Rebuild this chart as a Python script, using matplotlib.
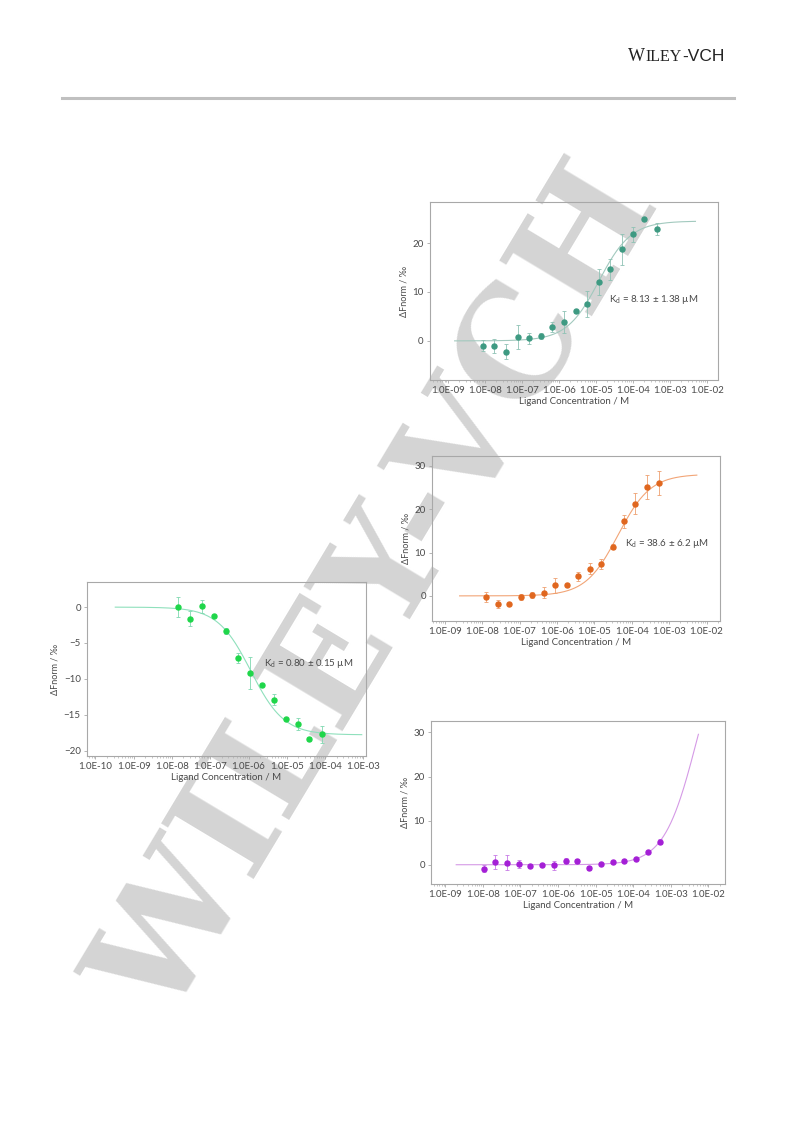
import numpy as np
import matplotlib
matplotlib.use('Agg')
import matplotlib.pyplot as plt
from matplotlib import ticker
from matplotlib.lines import Line2D

plt.rcParams['font.family'] = ['Lato', 'DejaVu Sans']
plt.rcParams['mathtext.fontset'] = 'custom'
plt.rcParams['mathtext.rm'] = 'Lato'
plt.rcParams['mathtext.it'] = 'Lato'

# ---- data (concentration in M, dFnorm in per mille) ----
conc1 = [8.9e-09, 1.78e-08, 3.72e-08, 7.59e-08, 1.58e-07, 3.24e-07, 6.61e-07, 1.35e-06,
         2.82e-06, 5.75e-06, 1.17e-05, 2.45e-05, 5.01e-05, 1.0e-04, 2.04e-04, 4.37e-04]
resp1 = [-0.95, -1.0, -2.2, 0.8, 0.5, 1.0, 2.8, 3.9, 6.1, 7.5, 12.0, 14.6, 18.7, 21.8, 25.0, 22.9]
err1 = [1.2, 1.4, 1.5, 2.4, 1.2, 0.6, 1.0, 2.2, 0.3, 2.6, 2.6, 2.1, 3.2, 1.5, 0.0, 1.2]

conc2 = [1.26e-08, 2.69e-08, 5.37e-08, 1.07e-07, 2.19e-07, 4.47e-07, 8.91e-07, 1.82e-06,
         3.72e-06, 7.59e-06, 1.51e-05, 3.16e-05, 6.31e-05, 1.26e-04, 2.63e-04, 5.25e-04]
resp2 = [-0.3, -1.8, -1.8, -0.2, 0.2, 0.7, 2.4, 2.4, 4.5, 6.3, 7.3, 11.4, 17.2, 21.3, 25.1, 26.0]
err2 = [1.1, 0.9, 0.0, 0.7, 0.8, 1.3, 1.8, 0.0, 1.0, 1.2, 1.2, 0.5, 1.5, 2.4, 2.8, 2.8]

conc3 = [1.48e-08, 3.02e-08, 6.17e-08, 1.26e-07, 2.57e-07, 5.25e-07, 1.07e-06, 2.19e-06,
         4.57e-06, 9.33e-06, 1.91e-05, 3.89e-05, 8.32e-05]
resp3 = [0.0, -1.6, 0.1, -1.2, -3.3, -7.1, -9.2, -10.9, -12.9, -15.6, -16.3, -18.4, -17.7]
err3 = [1.4, 1.0, 0.9, 0.0, 0.4, 0.7, 2.2, 0.0, 0.8, 0.0, 0.8, 0.3, 1.2]

conc4 = [1.05e-08, 2.14e-08, 4.37e-08, 8.91e-08, 1.82e-07, 3.72e-07, 7.76e-07, 1.58e-06,
         3.24e-06, 6.61e-06, 1.38e-05, 2.82e-05, 5.75e-05, 1.17e-04, 2.45e-04, 5.01e-04]
resp4 = [-0.9, 0.6, 0.5, 0.15, -0.2, -0.15, -0.15, 0.9, 0.8, -0.8, 0.1, 0.6, 0.75, 1.2, 3.0, 5.2]
err4 = [0.8, 1.5, 1.6, 0.9, 0.0, 0.0, 1.0, 0.6, 0.5, 0.5, 0.0, 0.0, 0.0, 0.0, 0.0, 0.6]

# fitted curves: amplitude, apparent EC50 (M), curve range (M)
fit1 = (24.5, 1.2e-05, 1.5e-09, 4.9e-03)
fit2 = (28.1, 4.3e-05, 2.5e-09, 5.5e-03)
fit3 = (-17.8, 1.15e-06, 3.3e-10, 9.1e-04)
fit4 = (56.7, 4.95e-03, 1.95e-09, 5.4e-03)

kd1 = 'K$_\\mathrm{d}$ = 8.13 ± 1.38 µM'
kd2 = 'K$_\\mathrm{d}$ = 38.6 ± 6.2 µM'
kd3 = 'K$_\\mathrm{d}$ = 0.80 ± 0.15 µM'

fig = plt.figure(figsize=(7.93, 11.21), dpi=100)

# watermark behind everything
fig.text(0.478, 0.47, 'WILEY-VCH', rotation=59, fontsize=106, family='DejaVu Serif',
         weight='bold', color='#d4d4d4', ha='center', va='center',
         rotation_mode='anchor', zorder=-5)

# header
fig.text(628 / 793, 1 - 61 / 1121, 'W', family='Liberation Serif', fontsize=13,
         color='#222222', va='baseline', ha='left')
fig.text(645 / 793, 1 - 61 / 1121, 'ILEY', family='Liberation Serif', fontsize=11.5,
         color='#222222', va='baseline', ha='left')
fig.text(682 / 793, 1 - 61 / 1121, '-VCH', family='Liberation Sans', fontsize=12.5,
         color='#222222', va='baseline', ha='left')
fig.add_artist(Line2D([62 / 793, 734 / 793], [1 - 98 / 1121, 1 - 98 / 1121],
                      color='#c0c0c0', linewidth=2.2, transform=fig.transFigure))


def decade_label(v, pos):
    e = int(round(np.log10(v)))
    return '1.0E%+03d' % e if e >= 0 else '1.0E-%02d' % (-e)


def plotMST(rect, conc, resp, err, fit, xlim, ylim, yticks, mcol, ecol, lcol, kd=None, kdpos=None):
    ax = fig.add_axes(rect)
    ax.set_facecolor('none')
    amp, ec50, c0, c1 = fit
    xc = np.logspace(np.log10(c0), np.log10(c1), 300)
    ax.plot(xc, amp * xc / (xc + ec50), color=lcol, linewidth=0.8, zorder=2)
    ax.errorbar(conc, resp, yerr=err, fmt='o', markersize=3.6, color=mcol,
                ecolor=ecol, elinewidth=0.6, capsize=1.6, capthick=0.6, zorder=3)
    ax.set_xscale('log')
    ax.set_xlim(xlim)
    ax.set_ylim(ylim)
    ax.set_yticks(yticks)
    ax.xaxis.set_major_locator(ticker.LogLocator(base=10, numticks=20))
    ax.xaxis.set_minor_locator(ticker.LogLocator(base=10, subs=np.arange(2, 10), numticks=20))
    ax.xaxis.set_major_formatter(ticker.FuncFormatter(decade_label))
    ax.xaxis.set_minor_formatter(ticker.NullFormatter())
    for s in ax.spines.values():
        s.set_color('#a8a8a8')
        s.set_linewidth(0.8)
    ax.tick_params(axis='both', which='major', labelsize=7, colors='#a8a8a8',
                   labelcolor='#4a4a4a', length=2.5, width=0.6, pad=2)
    ax.tick_params(axis='x', which='minor', colors='#b0b0b0', length=1.5, width=0.5)
    ax.set_xlabel('Ligand Concentration / M', fontsize=7, color='#4a4a4a', labelpad=1)
    ax.set_ylabel('ΔFnorm / ‰', fontsize=6.5, color='#4a4a4a', labelpad=3)
    if kd is not None:
        ax.text(kdpos[0], kdpos[1], kd, transform=ax.transAxes, fontsize=7,
                color='#4a4a4a', ha='left', va='center')
    return ax


plotMST([430 / 793, 1 - 380 / 1121, 288 / 793, 178 / 1121], conc1, resp1, err1, fit1,
        (10 ** -9.49, 10 ** -1.70), (-8.0, 28.4), [0, 10, 20],
        '#3e9a82', '#8ec2b4', '#a2c9be', kd1, (0.62, 0.45))
plotMST([432 / 793, 1 - 621 / 1121, 288 / 793, 165 / 1121], conc2, resp2, err2, fit2,
        (10 ** -9.34, 10 ** -1.64), (-5.8, 32.3), [0, 10, 20, 30],
        '#e0671f', '#eea070', '#f2a577', kd2, (0.67, 0.467))
plotMST([87 / 793, 1 - 756 / 1121, 279 / 793, 174 / 1121], conc3, resp3, err3, fit3,
        (10 ** -10.22, 10 ** -2.93), (-20.75, 3.5), [0, -5, -10, -15, -20],
        '#1fd64a', '#7fd8b0', '#8fe0bc', kd3, (0.634, 0.529))
plotMST([431 / 793, 1 - 884 / 1121, 294 / 793, 163 / 1121], conc4, resp4, err4, fit4,
        (10 ** -9.38, 10 ** -1.56), (-4.37, 32.6), [0, 10, 20, 30],
        '#a41fd6', '#c77ae6', '#d59ae6')

fig.savefig('out.png', dpi=100)
